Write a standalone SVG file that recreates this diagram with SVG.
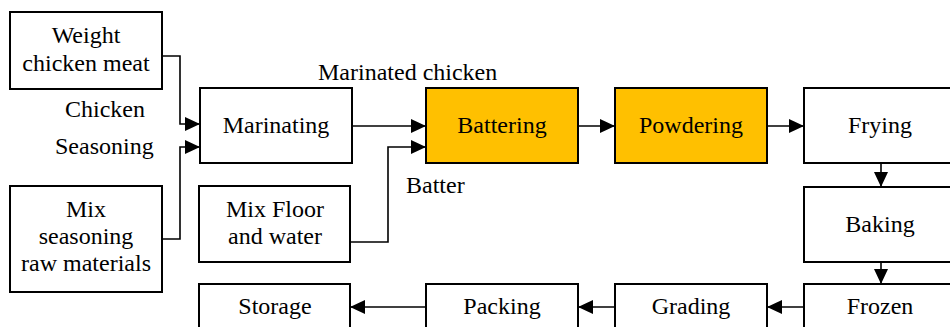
<svg xmlns="http://www.w3.org/2000/svg" width="950" height="327" viewBox="0 0 950 327">
<style>
.box{fill:#fff;stroke:#000;stroke-width:2}
.hl{fill:#FFC000;stroke:#000;stroke-width:2}
text{font-family:'Liberation Serif','Times New Roman',serif;font-size:24px;fill:#000}
.c{text-anchor:middle}
.ln{fill:none;stroke:#000;stroke-width:1.6}
</style>
<defs>
<marker id="ah" viewBox="0 0 15 14" refX="15" refY="7" markerWidth="15" markerHeight="14" markerUnits="userSpaceOnUse" orient="auto">
<path d="M0,0 L15,7 L0,14 Z" fill="#000"/>
</marker>
</defs>
<rect width="950" height="327" fill="#fff"/>
<g id="weight"><rect class="box" x="10" y="12" width="152" height="77"/><text class="c" x="86" y="43">Weight</text><text class="c" x="86" y="71">chicken meat</text></g>
<g id="mixseason"><rect class="box" x="10" y="186" width="152" height="106"/><text class="c" x="86" y="217">Mix</text><text class="c" x="86" y="244">seasoning</text><text class="c" x="86" y="271">raw materials</text></g>
<g id="marinating"><rect class="box" x="200" y="88" width="152" height="75"/><text class="c" x="276" y="133">Marinating</text></g>
<g id="mixfloor"><rect class="box" x="199" y="186" width="151" height="76"/><text class="c" x="275" y="217">Mix Floor</text><text class="c" x="275" y="244">and water</text></g>
<g id="battering"><rect class="hl" x="426" y="88" width="152" height="75"/><text class="c" x="502" y="133">Battering</text></g>
<g id="powdering"><rect class="hl" x="615" y="88" width="152" height="75"/><text class="c" x="691" y="133">Powdering</text></g>
<g id="frying"><rect class="box" x="804" y="88" width="160" height="75"/><text class="c" x="880" y="133">Frying</text></g>
<g id="baking"><rect class="box" x="804" y="187" width="160" height="75"/><text class="c" x="880" y="232">Baking</text></g>
<g id="frozen"><rect class="box" x="804" y="284" width="160" height="60"/><text class="c" x="880" y="314">Frozen</text></g>
<g id="grading"><rect class="box" x="615" y="284" width="152" height="60"/><text class="c" x="691" y="314">Grading</text></g>
<g id="packing"><rect class="box" x="426" y="284" width="152" height="60"/><text class="c" x="502" y="314">Packing</text></g>
<g id="storage"><rect class="box" x="199" y="284" width="151" height="60"/><text class="c" x="275" y="314">Storage</text></g>
<g id="labels">
<text x="65" y="117">Chicken</text>
<text x="55" y="154">Seasoning</text>
<text x="318" y="80">Marinated chicken</text>
<text x="406" y="193">Batter</text>
</g>
<g id="connectors">
<path class="ln" d="M162,56 H180 V124 H200" marker-end="url(#ah)"/>
<path class="ln" d="M162,239 H180 V147 H200" marker-end="url(#ah)"/>
<path class="ln" d="M352,126 H426" marker-end="url(#ah)"/>
<path class="ln" d="M350,242 H388 V147 H426" marker-end="url(#ah)"/>
<path class="ln" d="M578,126 H615" marker-end="url(#ah)"/>
<path class="ln" d="M767,126 H804" marker-end="url(#ah)"/>
<path class="ln" d="M881,163 V187" marker-end="url(#ah)"/>
<path class="ln" d="M881,262 V284" marker-end="url(#ah)"/>
<path class="ln" d="M804,307 H767" marker-end="url(#ah)"/>
<path class="ln" d="M615,307 H578" marker-end="url(#ah)"/>
<path class="ln" d="M426,307 H350" marker-end="url(#ah)"/>
</g>
</svg>
